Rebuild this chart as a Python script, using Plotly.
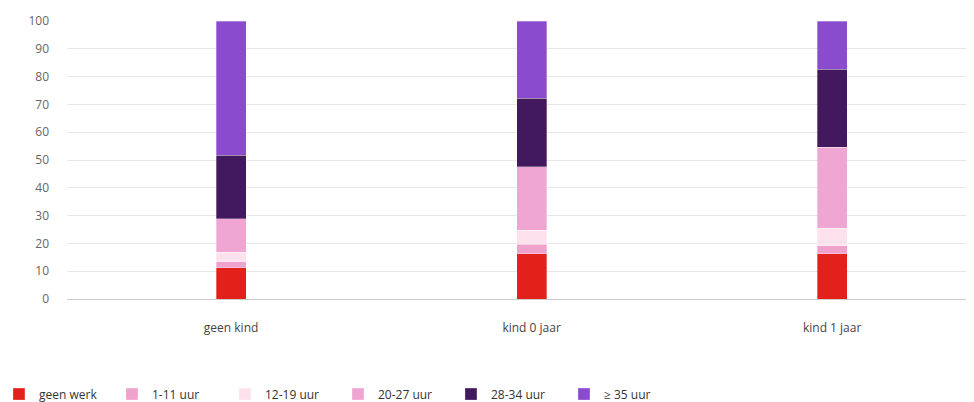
import plotly.graph_objects as go

categories = ["geen kind", "kind 0 jaar", "kind 1 jaar"]
series_names = ["geen werk", "1-11 uur", "12-19 uur", "20-27 uur", "28-34 uur", "≥ 35 uur"]
geen_werk = [11.2, 16.3, 16.3]
uur_1_11 = [2.2, 3.4, 2.9]
uur_12_19 = [3.4, 5.1, 6.2]
uur_20_27 = [12.1, 22.8, 29.2]
uur_28_34 = [22.9, 24.7, 28.0]
uur_35_plus = [48.2, 27.7, 17.4]
y_ticks = [0, 10, 20, 30, 40, 50, 60, 70, 80, 90, 100]

values = [geen_werk, uur_1_11, uur_12_19, uur_20_27, uur_28_34, uur_35_plus]
colors = ["#e3211b", "#eea2cc", "#fde2ee", "#f0a6d2", "#43195d", "#8b4bcf"]

fig = go.Figure()
for name, vals, col in zip(series_names, values, colors):
    fig.add_trace(go.Bar(
        x=list(range(len(categories))), y=vals, name=name,
        marker=dict(color=col, line=dict(color="rgba(255,255,255,0.6)", width=0.5)),
        width=0.1,
    ))

fig.update_layout(
    barmode="stack",
    width=966, height=394,
    margin=dict(l=59, r=0, t=13, b=103, autoexpand=False),
    paper_bgcolor="white", plot_bgcolor="white",
    font=dict(family="Open Sans, sans-serif", size=12, color="#555"),
    showlegend=True,
    legend=dict(orientation="h", x=-0.075, xanchor="left", traceorder="normal",
                y=-0.342, yanchor="middle", entrywidth=68, entrywidthmode="pixels",
                font=dict(size=12, color="#333"), itemclick=False),
    xaxis=dict(range=[-0.546, 2.472], tickmode="array",
               tickvals=list(range(len(categories))), ticktext=categories,
               showgrid=False, zeroline=False, showline=False,
               tickfont=dict(size=12, color="#444"), ticks="", ticklabelstandoff=20),
    yaxis=dict(range=[0, 100], tickmode="array", tickvals=y_ticks,
               gridcolor="#e6e6e6", gridwidth=1, zeroline=True,
               zerolinecolor="#cccccc", zerolinewidth=1,
               tickfont=dict(size=12, color="#666"), ticks="", ticklabelstandoff=17),
)

fig.write_html("out.html")
